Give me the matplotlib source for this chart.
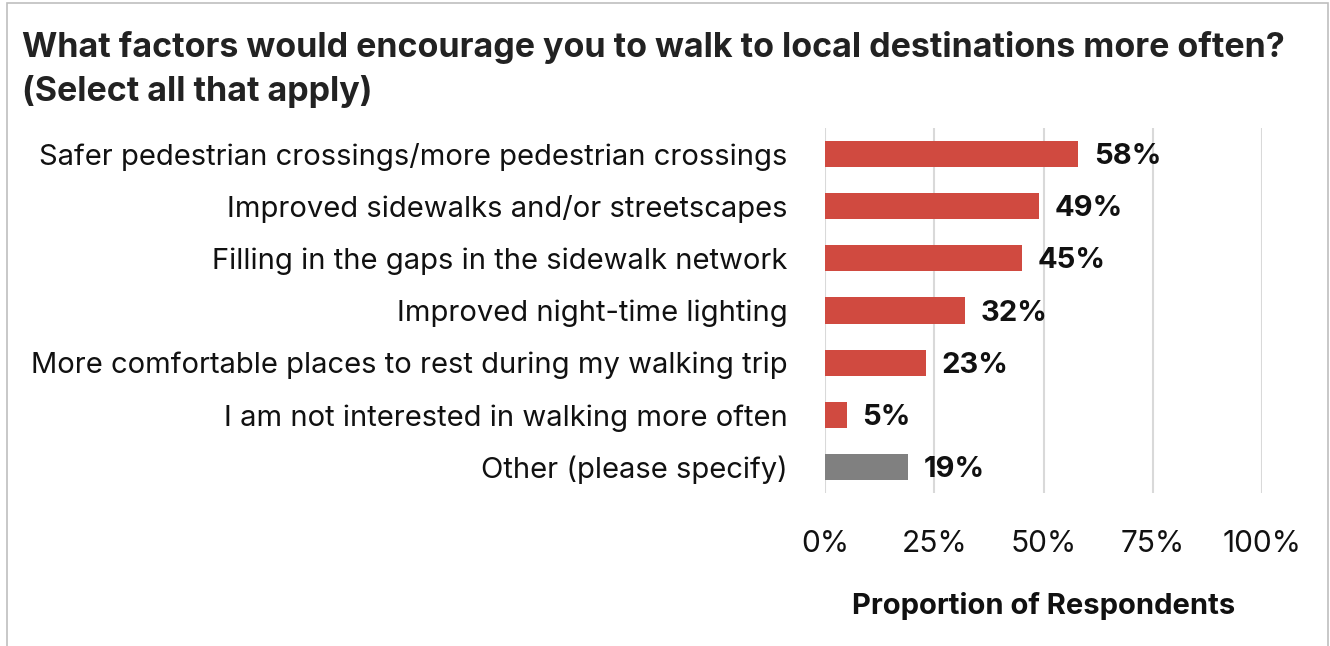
import matplotlib.pyplot as plt
from matplotlib.patches import Rectangle

plt.rcParams['font.family'] = ['Inter', 'DejaVu Sans']

# data
factors = [
    "Safer pedestrian crossings/more pedestrian crossings",
    "Improved sidewalks and/or streetscapes",
    "Filling in the gaps in the sidewalk network",
    "Improved night-time lighting",
    "More comfortable places to rest during my walking trip",
    "I am not interested in walking more often",
    "Other (please specify)",
]
shares = [58, 49, 45, 32, 23, 5, 19]
bar_colors = ["#D04A40"] * 6 + ["#808080"]
ticks = [0, 25, 50, 75, 100]

W, H = 1330, 646
fig = plt.figure(figsize=(W / 100, H / 100), dpi=100)

# light frame around the chart
fig.add_artist(Rectangle((7 / W, -0.01), (W - 9) / W, (H - 3) / H + 0.01,
                         transform=fig.transFigure, fill=False,
                         edgecolor="#BFBFBF", linewidth=1.2))

ax = fig.add_axes([825 / W, 1 - 493 / H, (1262 - 825) / W, (493 - 128) / H])

y = list(range(len(factors)))
ax.barh(y, shares, height=0.5, color=bar_colors, zorder=3)
for yi, v in zip(y, shares):
    ax.text(v + 3.6, yi + 0.05, f"{v}%", va="center", ha="left", fontsize=21,
            fontweight="bold", color="#111111")

ax.set_xlim(0, 100)
ax.set_ylim(6.5, -0.5)
ax.set_xticks(ticks)
ax.set_xticklabels([f"{t}%" for t in ticks], fontsize=21.5, color="#111111")
ax.set_yticks(y)
ax.set_yticklabels(factors, fontsize=21, color="#111111")
ax.tick_params(axis="both", length=0)
ax.tick_params(axis="y", pad=27)
ax.tick_params(axis="x", pad=27)
ax.grid(axis="x", color="#D9D9D9", linewidth=1.5, zorder=0)
for s in ax.spines.values():
    s.set_visible(False)

ax.set_xlabel("Proportion of Respondents", fontsize=21, fontweight="bold",
              labelpad=24, color="#111111")

fig.text(22 / W, 1 - 47 / H,
         "What factors would encourage you to walk to local destinations more often?",
         fontsize=24.5, fontweight="bold", va="center", ha="left", color="#222222")
fig.text(22 / W, 1 - 92 / H, "(Select all that apply)",
         fontsize=24.5, fontweight="bold", va="center", ha="left", color="#222222")

fig.savefig("out.png", dpi=100)
